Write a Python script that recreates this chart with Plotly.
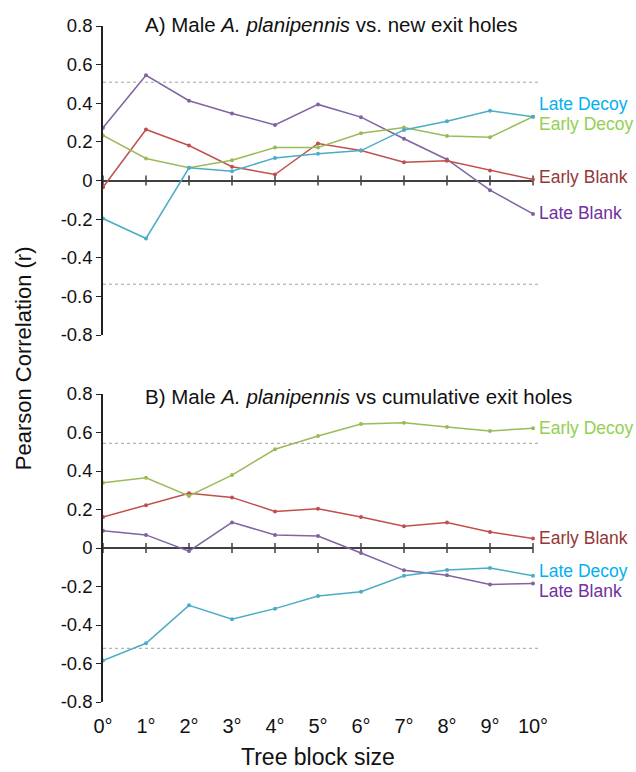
import plotly.graph_objects as go

# Tree block sizes (degrees)
block_size = list(range(11))
tick_labels = [f"{d}°" for d in block_size]
y_ticks = [0.8, 0.6, 0.4, 0.2, 0.0, -0.2, -0.4, -0.6, -0.8]
y_tick_text = ["0.8", "0.6", "0.4", "0.2", "0", "-0.2", "-0.4", "-0.6", "-0.8"]

series_names = ["Late Decoy", "Early Decoy", "Early Blank", "Late Blank"]

# Panel A: correlation with new exit holes
a_late_decoy = [-0.197, -0.300, 0.066, 0.048, 0.117, 0.138, 0.155, 0.262, 0.307, 0.361, 0.330]
a_early_decoy = [0.233, 0.114, 0.066, 0.105, 0.171, 0.171, 0.245, 0.275, 0.230, 0.224, 0.330]
a_early_blank = [-0.035, 0.264, 0.181, 0.071, 0.031, 0.192, 0.155, 0.095, 0.102, 0.052, 0.005]
a_late_blank = [0.273, 0.545, 0.413, 0.347, 0.288, 0.394, 0.328, 0.216, 0.109, -0.050, -0.173]
a_thresholds = [0.509, -0.537]

# Panel B: correlation with cumulative exit holes
b_late_decoy = [-0.585, -0.495, -0.298, -0.370, -0.315, -0.249, -0.227, -0.144, -0.114, -0.104, -0.144]
b_early_decoy = [0.339, 0.365, 0.270, 0.379, 0.513, 0.582, 0.644, 0.651, 0.629, 0.608, 0.622]
b_early_blank = [0.161, 0.222, 0.284, 0.263, 0.190, 0.204, 0.161, 0.113, 0.132, 0.083, 0.050]
b_late_blank = [0.090, 0.068, -0.016, 0.133, 0.068, 0.062, -0.026, -0.116, -0.142, -0.189, -0.185]
b_thresholds = [0.544, -0.521]

line_colors = {"Late Decoy": "#4BACC6", "Early Decoy": "#9BBB59",
               "Early Blank": "#C0504D", "Late Blank": "#8064A2"}
label_colors = {"Late Decoy": "#00B0F0", "Early Decoy": "#92D050",
                "Early Blank": "#953735", "Late Blank": "#7030A0"}

FONT = "Liberation Sans, Arial, sans-serif"
AXIS_GREY = "#404040"

# end-of-line label heights (data units) for each panel
a_label_y = {"Late Decoy": 0.394, "Early Decoy": 0.290, "Early Blank": 0.016, "Late Blank": -0.166}
b_label_y = {"Early Decoy": 0.623, "Early Blank": 0.052, "Late Decoy": -0.119, "Late Blank": -0.223}

panels = [
    dict(xa="x", ya="y", data=dict(zip(series_names, [a_late_decoy, a_early_decoy, a_early_blank, a_late_blank])),
         thr=a_thresholds, labels=a_label_y),
    dict(xa="x2", ya="y2", data=dict(zip(series_names, [b_late_decoy, b_early_decoy, b_early_blank, b_late_blank])),
         thr=b_thresholds, labels=b_label_y),
]

fig = go.Figure()
shapes = []
annotations = []

for p in panels:
    yref = p["ya"]
    # tick marks crossing the zero line
    fig.add_trace(go.Scatter(
        x=block_size, y=[0] * len(block_size), xaxis=p["xa"], yaxis=p["ya"],
        mode="markers", marker=dict(symbol="line-ns-open", size=7, color=AXIS_GREY,
                                    line=dict(width=1.5, color=AXIS_GREY)),
        cliponaxis=False, showlegend=False, hoverinfo="skip"))
    order = ["Late Blank", "Early Blank", "Early Decoy", "Late Decoy"]
    for name in order:
        fig.add_trace(go.Scatter(
            x=block_size, y=p["data"][name], xaxis=p["xa"], yaxis=p["ya"], name=name,
            mode="lines+markers", line=dict(color=line_colors[name], width=1.5),
            marker=dict(color=line_colors[name], size=4), cliponaxis=False, showlegend=False))
    for t in p["thr"]:
        shapes.append(dict(type="line", xref="paper", yref=yref, x0=0, x1=1.0186, y0=t, y1=t,
                           line=dict(color="#A0A0A0", width=1, dash="dot")))
    for name, yv in p["labels"].items():
        annotations.append(dict(xref="paper", yref=yref, x=1.009, y=yv, xanchor="left", yanchor="middle",
                                text=name, showarrow=False,
                                font=dict(family=FONT, size=17.5, color=label_colors[name])))

annotations += [
    dict(xref="paper", yref="paper", x=0.093, y=1.0015, xanchor="left", yanchor="middle", showarrow=False,
         text="A) Male <i>A. planipennis</i> vs. new exit holes", font=dict(family=FONT, size=20.5, color="#111")),
    dict(xref="paper", yref="paper", x=0.093, y=0.4512, xanchor="left", yanchor="middle", showarrow=False,
         text="B) Male <i>A. planipennis</i> vs cumulative exit holes", font=dict(family=FONT, size=20.5, color="#111")),
    dict(xref="paper", yref="paper", x=-0.183, y=0.509, xanchor="center", yanchor="middle", showarrow=False,
         textangle=-90, text="Pearson Correlation (r)", font=dict(family=FONT, size=22, color="#111")),
    dict(xref="paper", yref="paper", x=0.5, y=-0.0815, xanchor="center", yanchor="middle", showarrow=False,
         text="Tree block size", font=dict(family=FONT, size=23, color="#111")),
]

yaxis_common = dict(range=[-0.8, 0.8], tickvals=y_ticks, ticktext=y_tick_text, showgrid=False,
                    showline=True, linecolor="#222", linewidth=1.5, ticks="outside", ticklen=5,
                    tickwidth=1.2, tickcolor="#222", zeroline=True, zerolinecolor=AXIS_GREY,
                    zerolinewidth=2, tickfont=dict(family=FONT, size=18.5, color="#111"))
xaxis_hidden = dict(range=[0, 10], showgrid=False, zeroline=False, showline=False,
                    showticklabels=False, ticks="")

fig.update_layout(
    width=636, height=772,
    margin=dict(l=103, r=103, t=26, b=70),
    paper_bgcolor="white", plot_bgcolor="white",
    xaxis=dict(**xaxis_hidden, anchor="y"),
    yaxis=dict(**yaxis_common, domain=[0.5429, 1.0], anchor="x"),
    xaxis2=dict(range=[0, 10], showgrid=False, zeroline=False, showline=False, anchor="y2",
                tickvals=block_size, ticktext=tick_labels, ticks="", ticklabelstandoff=10,
                tickfont=dict(family=FONT, size=20, color="#111")),
    yaxis2=dict(**yaxis_common, domain=[0.0, 0.4556], anchor="x2"),
    shapes=shapes, annotations=annotations, showlegend=False,
)

fig.write_html("out.html")
